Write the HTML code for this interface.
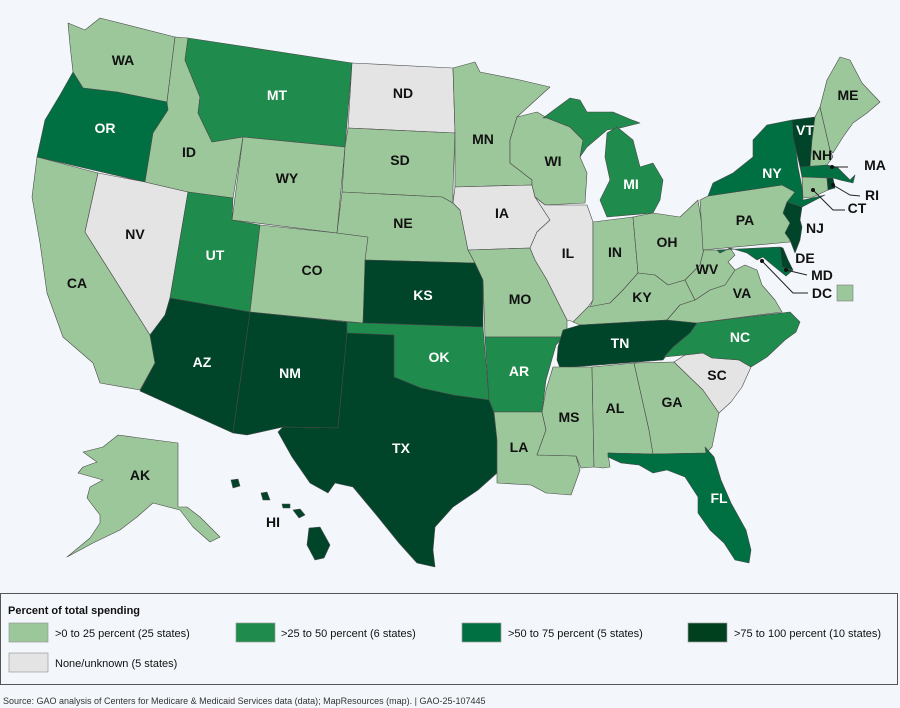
<!DOCTYPE html>
<html><head><meta charset="utf-8"><style>
html,body{margin:0;padding:0;background:#f3f7fb;}
body{width:900px;height:708px;overflow:hidden;position:relative;font-family:"Liberation Sans",Arial,sans-serif;}
svg{position:absolute;left:0;top:0;}
</style></head><body>
<svg id="map" width="900" height="708" viewBox="0 0 900 708">
<rect x="0" y="0" width="900" height="708" fill="#f3f7fb"/>
<g id="states"></g>
<g id="labels"></g>
<g stroke="#222" stroke-width="1" fill="none">
<polyline points="832,167 848,167"/>
<polyline points="833,185 850,195 860,196"/>
<polyline points="813,190 833,210 845,210"/>
<polyline points="786,270 807,275"/>
<polyline points="762,261 793,293 808,293"/>
</g>
<g fill="#111">
<circle cx="832" cy="167" r="2"/>
<circle cx="833" cy="185" r="2"/>
<circle cx="813" cy="190" r="2"/>
<circle cx="786" cy="270" r="2"/>
<circle cx="762" cy="261" r="2"/>
</g>
<rect x="837" y="285" width="16" height="16" fill="#9cc79a" stroke="#888" stroke-width="0.7"/>

<rect x="0.5" y="593.5" width="897" height="91" fill="none" stroke="#555" stroke-width="1"/>
<text x="8" y="614" font-size="11" font-weight="bold" fill="#111" font-family="Liberation Sans, Arial, sans-serif">Percent of total spending</text>
<g>
<rect x="9" y="623" width="39" height="19" fill="#9cc79a" stroke="#999" stroke-width="0.7"/>
<text x="55" y="637" font-size="11" fill="#111" font-family="Liberation Sans, Arial, sans-serif">&gt;0 to 25 percent (25 states)</text>
</g>
<g>
<rect x="236" y="623" width="39" height="19" fill="#1f8b4c" stroke="#999" stroke-width="0.7"/>
<text x="281" y="637" font-size="11" fill="#111" font-family="Liberation Sans, Arial, sans-serif">&gt;25 to 50 percent (6 states)</text>
</g>
<g>
<rect x="462" y="623" width="39" height="19" fill="#006f41" stroke="#999" stroke-width="0.7"/>
<text x="508" y="637" font-size="11" fill="#111" font-family="Liberation Sans, Arial, sans-serif">&gt;50 to 75 percent (5 states)</text>
</g>
<g>
<rect x="688" y="623" width="39" height="19" fill="#00401f" stroke="#999" stroke-width="0.7"/>
<text x="734" y="637" font-size="11" fill="#111" font-family="Liberation Sans, Arial, sans-serif">&gt;75 to 100 percent (10 states)</text>
</g>
<g>
<rect x="9" y="653" width="39" height="19" fill="#e4e4e4" stroke="#999" stroke-width="0.7"/>
<text x="55" y="667" font-size="11" fill="#111" font-family="Liberation Sans, Arial, sans-serif">None/unknown (5 states)</text>
</g>
<text x="3" y="704" font-size="9" fill="#333" font-family="Liberation Sans, Arial, sans-serif">Source: GAO analysis of Centers for Medicare &amp; Medicaid Services data (data); MapResources (map).  |  GAO-25-107445</text>
</svg>
<script>
// Data: state codes and spending category (0: >0-25, 1: >25-50, 2: >50-75, 3: >75-100, 4: none/unknown)
const stateCodes = ["WA","OR","CA","NV","ID","MT","WY","UT","CO","AZ","NM","ND","SD","NE","KS","OK","TX","MN","IA","MO","AR","LA","WI","IL","MI","IN","OH","KY","TN","MS","AL","GA","FL","SC","NC","VA","WV","PA","NY","NJ","DE","MD","VT","NH","ME","MA","CT","RI","AK","HI"];
const categoryIndex = [0,2,0,4,0,1,0,1,0,3,3,4,0,0,3,1,3,0,4,0,1,0,0,4,1,0,0,0,3,0,0,0,2,4,1,0,0,0,2,3,3,2,3,0,0,2,0,3,0,3];
const categoryColors = ["#9cc79a","#1f8b4c","#006f41","#00452a","#e4e4e4"];
const labelColors = ["#111","#fff","#fff","#fff","#111"];

const shapes = {
WA:[[68,23,85,30,100,18,175,37,167,102,117,92,83,88,73,72,70,45]],
OR:[[73,72,83,88,117,92,167,102,168,110,153,133,145,182,37,157,45,120,60,95]],
CA:[[37,157,98,173,85,232,150,335,155,363,140,390,100,383,93,363,63,337,47,293,40,243,32,197]],
NV:[[98,173,145,182,188,192,170,298,165,315,150,335,85,232]],
ID:[[175,37,188,38,185,60,200,97,198,113,212,142,243,137,233,198,188,192,145,182,153,133,168,110,167,102]],
MT:[[188,38,352,63,345,147,243,137,212,142,198,113,200,97,185,60]],
WY:[[243,137,345,147,337,233,232,220]],
UT:[[188,192,233,198,232,220,260,225,250,312,170,298]],
CO:[[260,225,337,233,368,237,363,323,250,312]],
AZ:[[170,298,250,312,233,433,140,391,155,363,150,335,165,315]],
NM:[[250,312,347,322,347,333,338,428,283,427,247,435,233,433]],
ND:[[352,63,453,68,455,133,348,128]],
SD:[[348,128,455,133,453,187,453,203,442,197,342,192,345,147]],
NE:[[342,192,442,197,453,203,460,210,468,250,475,263,365,260,368,237,337,233]],
KS:[[365,260,475,263,483,280,483,327,363,323]],
OK:[[347,322,363,323,483,327,489,400,453,395,421,388,394,377,394,335,347,333]],
TX:[[347,333,394,335,394,377,421,388,453,395,489,400,494,413,497,440,497,473,478,490,453,507,435,527,433,550,435,567,417,563,399,543,378,517,353,487,335,483,328,493,310,483,292,457,278,432,283,427,338,428]],
MN:[[453,68,475,62,480,72,520,80,550,87,517,117,510,140,510,163,532,180,532,185,455,187,455,133]],
IA:[[455,187,532,185,535,197,550,220,537,232,530,248,468,250,460,210,453,203]],
MO:[[468,250,530,248,535,260,547,280,557,300,567,320,567,330,563,337,485,337,483,280,475,263]],
AR:[[485,337,563,337,556,345,546,380,542,412,494,412,489,400]],
LA:[[494,412,542,412,546,430,537,455,576,456,580,470,571,495,546,493,531,485,497,483,497,473,497,440]],
WI:[[517,117,537,112,547,118,570,127,583,140,580,157,587,173,585,203,545,205,535,197,532,185,532,180,510,163,510,140]],
IL:[[535,197,545,205,587,205,593,222,593,300,588,307,575,322,567,320,557,300,547,280,535,260,530,248,537,232,550,220]],
MI:[[543,118,570,98,580,100,587,112,613,112,632,120,640,123,620,128,607,130,587,147,580,157,583,140,570,127,547,118],[607,133,617,127,633,140,640,167,653,163,663,180,660,200,653,213,607,217,600,200,610,180,605,157]],
IN:[[593,222,633,217,638,273,623,290,610,303,590,307,593,300]],
OH:[[633,217,653,213,680,217,698,200,705,245,700,265,685,280,668,285,655,275,638,273]],
KY:[[573,322,588,307,610,303,623,290,638,273,655,275,668,285,685,280,695,300,680,305,667,320,580,325]],
TN:[[563,330,580,325,667,320,697,323,690,333,673,347,663,360,560,368,557,360,558,347]],
MS:[[553,367,592,367,594,467,581,468,576,456,537,455,546,430,542,412,546,390]],
AL:[[592,367,634,363,649,430,653,454,608,453,610,467,603,468,594,467]],
GA:[[634,363,674,362,703,390,719,413,712,447,706,453,653,454,649,430]],
FL:[[608,453,653,454,706,453,705,447,714,457,721,480,731,503,746,530,751,550,749,563,735,560,724,543,710,530,698,513,698,497,685,477,667,470,653,473,639,465,621,463,608,457]],
SC:[[674,362,685,355,703,353,712,358,739,360,751,367,742,387,731,402,719,413,703,390]],
NC:[[664,357,673,347,690,333,697,323,790,312,800,322,796,332,785,340,767,357,751,367,739,360,712,358,703,353,685,355]],
VA:[[667,320,680,305,695,300,710,290,725,285,735,270,745,265,757,270,762,285,775,300,782,312,697,323]],
WV:[[705,245,703,250,717,250,720,253,730,248,735,255,728,262,735,270,725,285,710,290,695,300,685,280,700,265]],
PA:[[700,200,708,196,782,185,795,192,790,205,800,215,790,235,790,242,703,250]],
NY:[[708,196,713,183,733,173,753,157,753,140,767,125,792,120,798,167,802,187,803,200,825,195,802,207,787,202,795,192,782,185]],
NJ:[[787,202,802,207,800,220,802,227,800,240,795,253,790,240,785,233,790,223,783,213]],
DE:[[780,247,783,248,788,260,793,270,782,267]],
MD:[[717,250,780,247,782,267,793,270,786,276,770,263,763,257,757,260,747,253,730,248,720,253]],
VT:[[792,120,815,117,812,140,810,167,800,167,793,137]],
NH:[[815,117,820,107,830,150,833,157,827,165,810,167,812,140]],
ME:[[820,107,827,80,840,57,850,60,862,83,880,102,867,113,853,123,843,137,833,153,830,150]],
MA:[[800,167,827,165,837,167,850,180,855,175,853,183,840,180,833,178,802,177]],
CT:[[802,177,827,178,828,190,813,197,803,198]],
RI:[[827,178,833,178,835,188,828,190]],
AK:[[118,435,140,438,178,443,178,507,187,507,200,517,220,537,210,542,193,527,180,510,153,503,137,517,120,530,93,543,67,557,90,538,100,523,100,515,87,498,90,487,103,480,78,473,83,467,97,462,83,452,103,447]],
HI:[[309,528,320,527,330,545,324,558,315,560,307,545],[231,480,238,479,240,486,233,488],[261,493,267,492,270,500,263,500],[282,504,290,504,290,508,283,508],[293,510,300,509,305,515,299,518]]
};
const labelPos = {WA:[123,60],OR:[105,128],CA:[77,283],NV:[135,234],ID:[189,152],MT:[277,95],WY:[287,178],UT:[215,255],CO:[312,270],AZ:[202,362],NM:[290,373],ND:[403,93],SD:[400,160],NE:[403,223],KS:[423,295],OK:[439,357],TX:[401,448],MN:[483,139],IA:[502,213],MO:[520,299],AR:[519,371],LA:[519,447],WI:[553,161],IL:[568,253],MI:[631,184],IN:[615,252],OH:[667,242],KY:[642,297],TN:[620,343],MS:[569,417],AL:[615,408],GA:[672,402],FL:[719,498],SC:[717,375],NC:[740,337],VA:[742,293],WV:[707,269],PA:[745,220],NY:[772,173],NJ:[815,228],DE:[805,258],MD:[822,275],VT:[805,130],NH:[822,155],ME:[848,95],MA:[875,165],CT:[857,208],RI:[872,195],AK:[140,475],HI:[273,522]};
const extraLabels = [["DC",822,293]];
const outsideLabels = ["MD","MA","CT","RI","DE","NJ","HI"];

const NS="http://www.w3.org/2000/svg";
const gS=document.getElementById('states'), gL=document.getElementById('labels');
stateCodes.forEach((code,i)=>{
  const cat=categoryIndex[i];
  shapes[code].forEach(pts=>{
    const p=document.createElementNS(NS,'polygon');
    let s=[];for(let k=0;k<pts.length;k+=2)s.push(pts[k]+','+pts[k+1]);
    p.setAttribute('points',s.join(' '));
    p.setAttribute('fill',categoryColors[cat]);
    p.setAttribute('stroke','#4a4a4a');
    p.setAttribute('stroke-width','0.6');
    p.setAttribute('stroke-linejoin','round');
    
    
    gS.appendChild(p);
  });
  const lp=labelPos[code];
  const t=document.createElementNS(NS,'text');
  t.setAttribute('x',lp[0]);t.setAttribute('y',lp[1]+5);
  t.setAttribute('text-anchor','middle');
  t.setAttribute('font-size','14');t.setAttribute('font-weight','bold');
  t.setAttribute('font-family','Liberation Sans, Arial, sans-serif');
  t.setAttribute('fill', outsideLabels.indexOf(code)>=0 ? '#111' : labelColors[cat]);
  
  
  t.textContent=code;
  gL.appendChild(t);
});
extraLabels.forEach(e=>{
  const t=document.createElementNS(NS,'text');
  t.setAttribute('x',e[1]);t.setAttribute('y',e[2]+5);
  t.setAttribute('text-anchor','middle');
  t.setAttribute('font-size','14');t.setAttribute('font-weight','bold');
  t.setAttribute('font-family','Liberation Sans, Arial, sans-serif');
  t.setAttribute('fill','#111');
  
  
  t.textContent=e[0];
  gL.appendChild(t);
});
</script>
</body></html>
